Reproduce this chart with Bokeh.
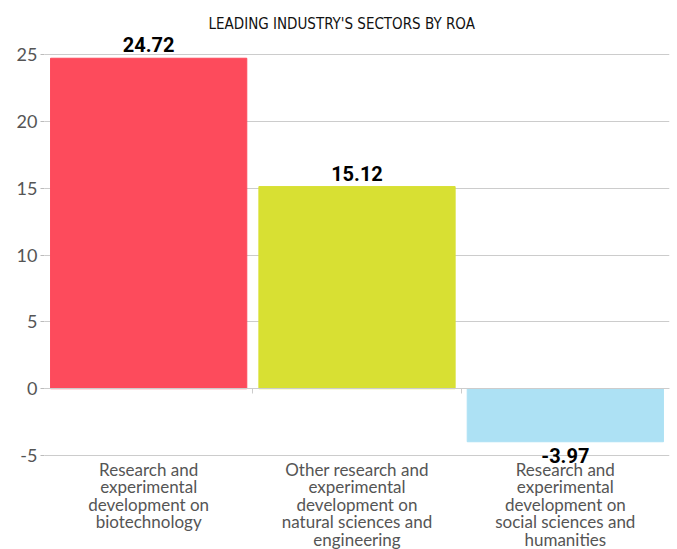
from bokeh.plotting import figure
from bokeh.models import ColumnDataSource, LabelSet, LinearAxis, FixedTicker, Range1d
from bokeh.core.properties import value
from bokeh.embed import file_html
from bokeh.resources import INLINE

# data
categories = [
    ["Research and", "experimental", "development on", "biotechnology"],
    ["Other research and", "experimental", "development on", "natural sciences and", "engineering"],
    ["Research and", "experimental", "development on", "social sciences and", "humanities"],
]
values = [24.72, 15.12, -3.97]
colors = ["#FD4B5C", "#D8E033", "#ADE1F4"]
y_ticks = [-5, 0, 5, 10, 15, 20, 25]
y_tick_labels = ["-5", "0", "5", "10", "15", "20", "25"]
title_text = "LEADING INDUSTRY'S SECTORS BY ROA"

xs = [i + 0.5 for i in range(len(categories))]

p = figure(width=677, height=549, output_backend="svg", toolbar_location=None,
           x_range=Range1d(0, len(categories)), y_range=Range1d(-12.03, 26.571),
           x_axis_location=None, min_border_left=44, min_border_right=8,
           min_border_top=33, min_border_bottom=0, outline_line_color=None)

p.title.text = title_text
p.title.align = "left"
p.title.offset = 164
p.title.text_font = "DejaVu Sans Condensed"
p.title.text_font_size = "15px"
p.title.text_font_style = "normal"
p.title.text_color = "#111111"
p.title.standoff = 2

src = ColumnDataSource(dict(x=xs, top=values, color=colors))
p.vbar(x="x", top="top", bottom=0, width=0.942, color="color", source=src)

# y axis
ax = p.yaxis[0]
ax.ticker = FixedTicker(ticks=y_ticks)
ax.major_label_overrides = dict(zip(y_ticks, y_tick_labels))
ax.axis_line_color = None
ax.major_tick_in = 0
ax.major_tick_out = 4
ax.minor_tick_line_color = None
ax.major_tick_line_color = "#bbbbbb"
ax.major_label_standoff = 3
ax.major_label_text_font = "Lato"
ax.major_label_text_font_size = "18px"
ax.major_label_text_color = "#555555"

p.xgrid.visible = False
p.ygrid.ticker = FixedTicker(ticks=y_ticks)
p.ygrid.grid_line_color = "#cccccc"

# zero axis with ticks at category boundaries
bounds = list(range(1, len(categories)))
zax = LinearAxis(fixed_location=0, ticker=FixedTicker(ticks=bounds),
                 major_label_overrides={b: "" for b in bounds},
                 major_tick_in=0, major_tick_out=5,
                 minor_tick_line_color=None, axis_line_color="#cccccc",
                 major_tick_line_color="#cccccc", major_label_standoff=0)
p.add_layout(zax, "below")

# value labels
pos = ColumnDataSource(dict(x=[x for x, v in zip(xs, values) if v >= 0],
                            y=[v for v in values if v >= 0],
                            t=["%.2f" % v for v in values if v >= 0]))
neg = ColumnDataSource(dict(x=[x for x, v in zip(xs, values) if v < 0],
                            y=[v for v in values if v < 0],
                            t=["%.2f" % v for v in values if v < 0]))
for s, off, base in [(pos, 6, "bottom"), (neg, -6, "top")]:
    p.add_layout(LabelSet(x="x", y="y", text="t", source=s, y_offset=off,
                          text_align="center", text_baseline=base,
                          text_font=value("Roboto"), text_font_style="bold",
                          text_font_size="20px", text_color="#000000"))

# category labels, one row per line so every line is centred
line_h = 17.6
lx, ly, lt, loff = [], [], [], []
for x, lines in zip(xs, categories):
    for i, line in enumerate(lines):
        lx.append(x)
        ly.append(y_ticks[0])
        lt.append(line)
        loff.append(-3 - i * line_h)
cat_src = ColumnDataSource(dict(x=lx, y=ly, t=lt, off=loff))
p.add_layout(LabelSet(x="x", y="y", text="t", source=cat_src, y_offset="off",
                      text_align="center", text_baseline="top",
                      text_font=value("Lato"), text_font_size="17px", text_color="#555555"))

open("out.html", "w").write(file_html(p, INLINE))
